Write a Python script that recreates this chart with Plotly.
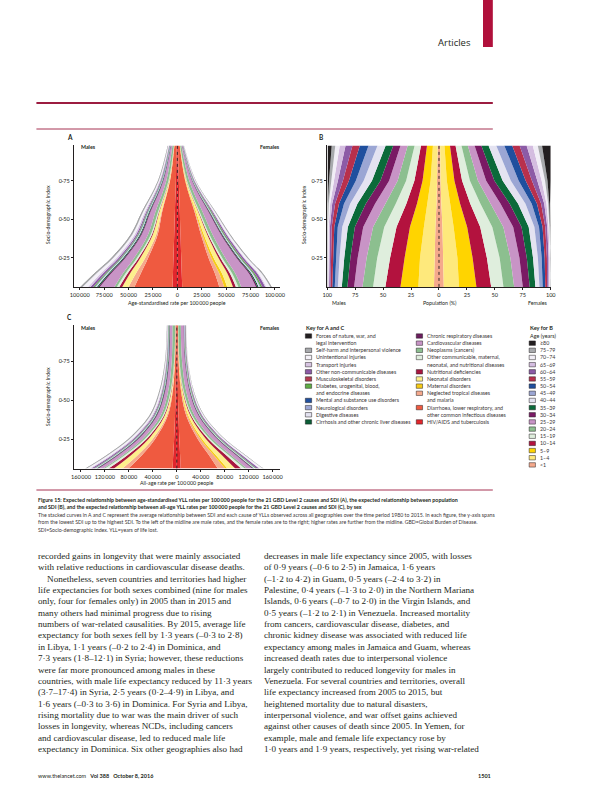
import plotly.graph_objects as go

W, H = 596, 800
SANS = "Lato"
SERIF = "Liberation Serif"
INK = "#231f20"


def fx(p):
    return p / W


def fy(p):
    return 1 - p / H


# ---------------- data ----------------
SDI_AC = [0.063, 0.15, 0.25, 0.4, 0.55, 0.75, 0.978]
SDI_B = [0.063, 0.25, 0.45, 0.6, 0.75, 0.978]

CAUSES = [
    "Forces of nature, war, and\nlegal intervention",
    "Self-harm and interpersonal violence",
    "Unintentional injuries",
    "Transport injuries",
    "Other non-communicable diseases",
    "Musculoskeletal disorders",
    "Diabetes, urogenital, blood,\nand endocrine diseases",
    "Mental and substance use disorders",
    "Neurological disorders",
    "Digestive diseases",
    "Cirrhosis and other chronic liver diseases",
    "Chronic respiratory diseases",
    "Cardiovascular diseases",
    "Neoplasms (cancers)",
    "Other communicable, maternal,\nneonatal, and nutritional diseases",
    "Nutritional deficiencies",
    "Neonatal disorders",
    "Maternal disorders",
    "Neglected tropical diseases\nand malaria",
    "Diarrhoea, lower respiratory, and\nother common infectious diseases",
    "HIV/AIDS and tuberculosis",
]
CAUSE_COLORS = [
    "#231f20", "#a7a9ac", "#f4f1f8", "#d7c4e2", "#8c5ba6", "#b33a50",
    "#5fae45", "#1f4f9e", "#9ba6d4", "#e4e3f1", "#0b5e36",
    "#6b1d5e", "#c894c6", "#8cbf8f", "#dfeedd", "#a9173f", "#fdef8c",
    "#f6cb16", "#f5a98c", "#ef5a40", "#e2262c",
]

# age-standardised YLL rate per 100 000 (rows follow CAUSES, columns follow SDI_AC)
A_MALE = [
    [300, 300, 300, 250, 200, 100, 50],
    [2000, 1900, 1700, 1400, 1100, 800, 500],
    [5500, 4200, 3300, 2400, 1800, 900, 500],
    [2500, 2400, 2100, 1700, 1300, 800, 400],
    [3000, 2400, 1900, 1400, 1000, 600, 400],
    [100, 100, 100, 100, 100, 80, 50],
    [1300, 1200, 1000, 800, 600, 400, 250],
    [300, 300, 300, 300, 300, 300, 200],
    [700, 600, 500, 400, 350, 300, 250],
    [1200, 1000, 800, 600, 500, 350, 200],
    [1500, 1400, 1200, 1000, 800, 500, 250],
    [1500, 1400, 1200, 1000, 800, 500, 300],
    [15000, 12000, 9000, 6500, 5000, 3000, 1500],
    [2500, 2700, 2800, 2800, 2700, 2200, 1500],
    [2500, 2200, 1800, 1200, 800, 400, 150],
    [3000, 2500, 1700, 900, 500, 200, 50],
    [6500, 6000, 5000, 3500, 2200, 800, 300],
    [0, 0, 0, 0, 0, 0, 0],
    [6000, 5000, 3000, 1500, 700, 200, 50],
    [39000, 33000, 26000, 17000, 13000, 6000, 2300],
    [5000, 4500, 4000, 3200, 2500, 1500, 700],
]
A_FEMALE = [
    [200, 200, 200, 150, 100, 50, 20],
    [1200, 1100, 1000, 900, 700, 400, 200],
    [4000, 3300, 2600, 1900, 1300, 600, 250],
    [1200, 1100, 1000, 900, 700, 400, 150],
    [3000, 2600, 2100, 1600, 1100, 600, 300],
    [150, 150, 150, 150, 120, 80, 40],
    [1500, 1400, 1300, 1100, 900, 450, 150],
    [200, 200, 200, 200, 200, 150, 100],
    [700, 650, 550, 450, 400, 300, 200],
    [1200, 1000, 800, 600, 500, 300, 120],
    [1300, 1200, 1000, 800, 600, 300, 120],
    [1500, 1400, 1200, 1000, 800, 400, 200],
    [15000, 14000, 11500, 8500, 6000, 2800, 900],
    [3000, 3200, 3200, 3200, 3000, 2300, 1200],
    [2500, 2300, 1900, 1300, 900, 400, 120],
    [3000, 2600, 1900, 1000, 500, 200, 40],
    [6000, 5500, 5000, 3500, 2200, 800, 250],
    [3000, 2800, 2200, 1500, 900, 300, 50],
    [5000, 4500, 3000, 1500, 700, 200, 50],
    [38000, 34000, 28000, 21000, 15000, 6500, 1800],
    [5000, 4500, 4000, 3200, 2500, 1500, 600],
]
# all-age YLL rate per 100 000
C_MALE = [
    [400, 400, 400, 300, 200, 100, 50],
    [2000, 2000, 1900, 1600, 1300, 800, 600],
    [5000, 4500, 3800, 2500, 1800, 900, 500],
    [2500, 2500, 2300, 1900, 1400, 800, 400],
    [4000, 3200, 2400, 1600, 1100, 700, 500],
    [100, 100, 100, 100, 100, 100, 80],
    [1500, 1300, 1100, 900, 800, 700, 600],
    [300, 300, 300, 300, 300, 300, 250],
    [1000, 900, 800, 600, 500, 500, 600],
    [1500, 1300, 1100, 800, 600, 450, 400],
    [1500, 1400, 1300, 1100, 1000, 800, 600],
    [2000, 1700, 1500, 1200, 1000, 800, 700],
    [8000, 7500, 7000, 6000, 5000, 4300, 4000],
    [3000, 3200, 3500, 3700, 3800, 4000, 4800],
    [6000, 4500, 3000, 1600, 1000, 400, 200],
    [9000, 6000, 3500, 1500, 700, 200, 80],
    [14000, 11000, 7000, 3500, 1500, 700, 300],
    [0, 0, 0, 0, 0, 0, 0],
    [10000, 7000, 4000, 1800, 800, 200, 50],
    [74000, 52000, 32000, 12000, 5000, 2000, 1500],
    [7000, 6000, 4500, 3000, 2000, 1000, 500],
]
C_FEMALE = [
    [200, 200, 200, 150, 100, 50, 20],
    [1200, 1100, 1000, 800, 600, 350, 250],
    [4500, 3500, 2500, 1700, 1100, 500, 300],
    [1200, 1100, 1000, 800, 600, 350, 150],
    [4000, 3200, 2400, 1600, 1100, 700, 600],
    [150, 150, 150, 150, 150, 150, 150],
    [1800, 1600, 1400, 1100, 900, 700, 600],
    [200, 200, 200, 200, 200, 200, 150],
    [1000, 900, 800, 600, 500, 600, 800],
    [1500, 1300, 1100, 800, 600, 450, 400],
    [1200, 1100, 1000, 800, 700, 500, 300],
    [1800, 1600, 1400, 1100, 900, 700, 600],
    [9000, 8500, 8000, 6500, 5500, 4800, 4800],
    [3500, 3600, 3800, 3900, 4000, 4200, 4200],
    [6000, 4500, 3000, 1600, 1000, 400, 200],
    [10000, 7000, 4000, 1700, 700, 200, 80],
    [13000, 10000, 6500, 3300, 1500, 600, 250],
    [4000, 3500, 2800, 1500, 800, 200, 30],
    [12000, 8000, 4500, 2000, 800, 200, 50],
    [62000, 48000, 31000, 13000, 5500, 2000, 1500],
    [6500, 5500, 4200, 2800, 1800, 900, 400],
]

AGES = ["\u226580", "75\u201379", "70\u201374", "65\u201369", "60\u201364", "55\u201359",
        "50\u201354", "45\u201349", "40\u201344", "35\u201339", "30\u201334", "25\u201329",
        "20\u201324", "15\u201319", "10\u201314", "5\u20139", "1\u20134", "<1"]
AGE_COLORS = ["#231f20", "#a7a9ac", "#f1eef6", "#d4bde0", "#8c5ba6", "#b8304c",
              "#1f4f9e", "#9ba6d4", "#e4e3f1", "#0b6a3a", "#7a1a64", "#c894c6",
              "#8cbf8f", "#dfeedd", "#b3123e", "#ffd400", "#fee97c", "#f5a98c"]
# population (%) by age group (rows follow AGES, columns follow SDI_B)
B_MALE = [
    [0.1, 0.1, 0.2, 0.5, 1.6, 3.5],
    [0.3, 0.3, 0.4, 0.8, 1.8, 3.2],
    [0.5, 0.5, 0.7, 1.3, 2.6, 4.0],
    [0.8, 0.9, 1.1, 1.8, 3.5, 5.2],
    [1.2, 1.4, 1.6, 2.6, 4.5, 6.2],
    [1.6, 1.9, 2.3, 3.5, 5.4, 6.6],
    [2.2, 2.6, 3.1, 4.5, 6.2, 7.8],
    [2.8, 3.3, 4.0, 5.5, 7.0, 8.0],
    [3.5, 4.2, 5.0, 6.5, 7.4, 7.3],
    [5.0, 5.5, 6.3, 7.5, 7.6, 6.8],
    [6.0, 6.5, 7.5, 8.3, 7.8, 6.5],
    [7.5, 8.0, 8.8, 9.0, 7.6, 6.4],
    [9.5, 9.5, 10.0, 9.5, 7.6, 6.2],
    [11.0, 11.5, 11.0, 9.5, 7.4, 5.7],
    [13.5, 13.0, 12.0, 9.5, 7.3, 5.4],
    [16.0, 13.8, 12.5, 9.5, 7.2, 5.3],
    [14.0, 13.0, 10.3, 8.0, 6.0, 4.3],
    [4.5, 4.0, 3.2, 2.2, 1.5, 1.1],
]
B_FEMALE = [
    [0.1, 0.1, 0.3, 0.8, 2.9, 7.8],
    [0.3, 0.3, 0.5, 1.0, 2.2, 3.8],
    [0.6, 0.6, 0.8, 1.5, 3.0, 4.5],
    [0.9, 1.0, 1.2, 2.0, 3.9, 5.5],
    [1.3, 1.5, 1.8, 2.8, 4.8, 6.3],
    [1.7, 2.0, 2.4, 3.7, 5.6, 6.6],
    [2.3, 2.7, 3.2, 4.7, 6.3, 7.1],
    [2.9, 3.4, 4.1, 5.6, 7.0, 7.2],
    [3.6, 4.3, 5.1, 6.6, 7.3, 6.9],
    [5.1, 5.6, 6.4, 7.5, 7.4, 6.4],
    [6.2, 6.6, 7.5, 8.2, 7.4, 6.1],
    [7.7, 8.1, 8.8, 8.8, 7.3, 6.0],
    [9.6, 9.6, 9.9, 9.2, 7.2, 5.7],
    [11.0, 11.4, 10.8, 9.1, 7.0, 5.3],
    [13.2, 12.8, 11.7, 9.1, 6.9, 5.0],
    [15.6, 13.6, 12.1, 9.1, 6.8, 4.9],
    [13.6, 12.6, 10.0, 7.7, 5.6, 3.9],
    [4.3, 3.9, 3.1, 2.1, 1.4, 1.0],
]

TICKS_A = [-100000, -75000, -50000, -25000, 0, 25000, 50000, 75000, 100000]
TICKS_C = [-160000, -120000, -80000, -40000, 0, 40000, 80000, 120000, 160000]
TICKS_B = [-100, -75, -50, -25, 0, 25, 50, 75, 100]
TICKS_Y = [0.25, 0.5, 0.75]
TICKTEXT_Y = ["0\u00b725", "0\u00b750", "0\u00b775"]
Y_RANGE = [0.063, 0.978]


def thin(v):
    s = f"{abs(v):,}"
    return s.replace(",", "\u2009")


fig = go.Figure()


def add_stack(rows, colors, sdi, sign, xa, ya, group, shape):
    for i in reversed(range(len(rows))):
        fig.add_trace(go.Scatter(
            x=[sign * v for v in rows[i]], y=sdi, xaxis=xa, yaxis=ya,
            stackgroup=group, orientation="h", mode="lines",
            line=dict(width=0, color=colors[i], shape=shape),
            fillcolor=colors[i], showlegend=False, hoverinfo="skip"))


add_stack(A_MALE, CAUSE_COLORS, SDI_AC, -1, "x", "y", "am", "spline")
add_stack(A_FEMALE, CAUSE_COLORS, SDI_AC, 1, "x", "y", "af", "spline")
add_stack(B_MALE, AGE_COLORS, SDI_B, -1, "x2", "y2", "bm", "linear")
add_stack(B_FEMALE, AGE_COLORS, SDI_B, 1, "x2", "y2", "bf", "linear")
add_stack(C_MALE, CAUSE_COLORS, SDI_AC, -1, "x3", "y3", "cm", "spline")
add_stack(C_FEMALE, CAUSE_COLORS, SDI_AC, 1, "x3", "y3", "cf", "spline")

for xa, ya in (("x", "y"), ("x2", "y2"), ("x3", "y3")):
    fig.add_trace(go.Scatter(x=[0, 0], y=Y_RANGE, xaxis=xa, yaxis=ya, mode="lines",
                             line=dict(color=INK, width=0.9, dash="dot"),
                             showlegend=False, hoverinfo="skip"))

tickfont = dict(family=SANS, size=5.6, color=INK)


def xaxis(dom, rng, vals, anchor):
    return dict(domain=[fx(dom[0]), fx(dom[1])], range=rng, tickvals=vals,
                ticktext=[thin(v) for v in vals], showline=True, linecolor=INK,
                linewidth=0.8, ticks="outside", ticklen=2.5, tickwidth=0.7,
                tickcolor=INK, tickfont=tickfont, showgrid=False, zeroline=False,
                anchor=anchor, fixedrange=True)


def yaxis(dom, anchor):
    return dict(domain=[fy(dom[1]), fy(dom[0])], range=Y_RANGE, tickvals=TICKS_Y,
                ticktext=TICKTEXT_Y, showline=True, linecolor=INK, linewidth=0.8,
                ticks="outside", ticklen=2.5, tickwidth=0.7, tickcolor=INK,
                tickfont=tickfont, showgrid=False, zeroline=False, anchor=anchor,
                fixedrange=True)


fig.update_layout(
    width=W, height=H, margin=dict(l=0, r=0, t=0, b=0),
    paper_bgcolor="white", plot_bgcolor="white", showlegend=False,
    xaxis=xaxis((70.7, 280), [-105500, 105000], TICKS_A, "y"),
    yaxis=yaxis((145.4, 286.9), "x"),
    xaxis2=xaxis((328.3, 556), [-100, 100], TICKS_B, "y2"),
    yaxis2=yaxis((145.4, 286.9), "x2"),
    xaxis3=xaxis((70.7, 280), [-171000, 172000], TICKS_C, "y3"),
    yaxis3=yaxis((325.3, 468.6), "x3"),
)

annotations = []
shapes = []


def ann(text, x, y, size=5.5, xanchor="left", bold=False, family=SANS,
        color=INK, angle=0, yanchor="middle"):
    if bold:
        text = "<b>" + text + "</b>"
    annotations.append(dict(text=text, x=fx(x), y=fy(y), xref="paper", yref="paper",
                            xanchor=xanchor, yanchor=yanchor, showarrow=False,
                            textangle=angle,
                            font=dict(family=family, size=size, color=color)))


# header decoration
shapes.append(dict(type="rect", xref="paper", yref="paper", x0=fx(487), x1=fx(497),
                   y0=fy(47), y1=fy(0), fillcolor="#b0103b", line=dict(width=0)))
ann("Articles", 477, 43, size=9.5, xanchor="right", family="Open Sans")
for yy, wd in ((103, 2), (129, 0.9), (490, 0.9)):
    shapes.append(dict(type="line", xref="paper", yref="paper", x0=fx(32), x1=fx(497),
                       y0=fy(yy), y1=fy(yy), line=dict(color="#9c1c40", width=wd)))

# panel labels and titles
ann("A", 61, 137, size=6.5, bold=True)
ann("B", 318, 137, size=6.5, bold=True)
ann("C", 61, 317, size=6.5, bold=True)
ann("Males", 75, 147, size=5.3, bold=True)
ann("Females", 282, 147, size=5.3, bold=True, xanchor="right")
ann("Males", 75, 328.3, size=5.3, bold=True)
ann("Females", 282, 328.3, size=5.3, bold=True, xanchor="right")
ann("Males", 331, 302.7, size=5.3)
ann("Population (%)", 443, 302.7, size=5.3, xanchor="center")
ann("Females", 555, 302.7, size=5.3, xanchor="right")
ann("Age-standardised rate per 100\u2009000 people", 175, 302.7, size=5.3, xanchor="center")
ann("All-age rate per 100\u2009000 people", 175, 482.7, size=5.3, xanchor="center")
ann("Socio-demographic Index", 44, 215, size=5.3, xanchor="center", angle=-90)
ann("Socio-demographic Index", 305, 215, size=5.3, xanchor="center", angle=-90)
ann("Socio-demographic Index", 44, 397, size=5.3, xanchor="center", angle=-90)

# keys
ROW0, PITCH = 336.0, 7.16
ann("Key for A and C", 305, 328, size=5.6, bold=True)
ann("Key for B", 533, 328, size=5.6, bold=True)
ann("Age (years)", 533, 336, size=5.4)


def key_item(label, color, xsq, row):
    yc = ROW0 + row * PITCH
    shapes.append(dict(type="rect", xref="paper", yref="paper", x0=fx(xsq),
                       x1=fx(xsq + 6.4), y0=fy(yc + 2.2), y1=fy(yc - 2.2),
                       fillcolor=color, line=dict(color=INK, width=0.5)))
    lines = label.split("\n")
    for k, ln in enumerate(lines):
        ann(ln, xsq + 9, ROW0 + (row + k) * PITCH, size=5.3, color="#3a3536")
    return len(lines)


row = 0
for i in range(11):
    row += key_item(CAUSES[i], CAUSE_COLORS[i], 306, row)
row = 0
for i in range(11, 21):
    row += key_item(CAUSES[i], CAUSE_COLORS[i], 419, row)
for j, (lab, col) in enumerate(zip(AGES, AGE_COLORS)):
    key_item(lab, col, 534, j + 1)

# caption
CAP_BOLD = [
    "Figure 15: Expected relationship between age-standardised YLL rates per 100\u2009000 people for the 21 GBD Level 2 causes and SDI (A), the expected relationship between population",
    "and SDI (B), and the expected relationship between all-age YLL rates per 100\u2009000 people for the 21 GBD Level 2 causes and SDI (C), by sex",
]
CAP_TEXT = [
    "The stacked curves in A and C represent the average relationship between SDI and each cause of YLLs observed across all geographies over the time period 1980 to 2015. In each figure, the y-axis spans",
    "from the lowest SDI up to the highest SDI. To the left of the midline are male rates, and the female rates are to the right; higher rates are further from the midline. GBD=Global Burden of Disease.",
    "SDI=Socio-demographic Index. YLL=years of life lost.",
]
cy = 500
for ln in CAP_BOLD:
    ann(ln, 32, cy, size=5.3, bold=True)
    cy += 7.4
for ln in CAP_TEXT:
    ann(ln, 32, cy, size=5.2, color="#3a3536")
    cy += 7.4

LEFT_COL = [
    "recorded gains in longevity that were mainly associated",
    "with relative reductions in cardiovascular disease deaths.",
    "\u2003Nonetheless, seven countries and territories had higher",
    "life expectancies for both sexes combined (nine for males",
    "only, four for females only) in 2005 than in 2015 and",
    "many others had minimal progress due to rising",
    "numbers of war-related causalities. By 2015, average life",
    "expectancy for both sexes fell by 1\u00b73 years (\u20130\u00b73 to 2\u00b78)",
    "in Libya, 1\u00b71 years (\u20130\u00b72 to 2\u00b74) in Dominica, and",
    "7\u00b73 years (1\u00b78\u201312\u00b71) in Syria; however, these reductions",
    "were far more pronounced among males in these",
    "countries, with male life expectancy reduced by 11\u00b73 years",
    "(3\u00b77\u201317\u00b74) in Syria, 2\u00b75 years (0\u00b72\u20134\u00b79) in Libya, and",
    "1\u00b76 years (\u20130\u00b73 to 3\u00b76) in Dominica. For Syria and Libya,",
    "rising mortality due to war was the main driver of such",
    "losses in longevity, whereas NCDs, including cancers",
    "and cardiovascular disease, led to reduced male life",
    "expectancy in Dominica. Six other geographies also had",
]
RIGHT_COL = [
    "decreases in male life expectancy since 2005, with losses",
    "of 0\u00b79 years (\u20130\u00b76 to 2\u00b75) in Jamaica, 1\u00b76 years",
    "(\u20131\u00b72 to 4\u00b72) in Guam, 0\u00b75 years (\u20132\u00b74 to 3\u00b72) in",
    "Palestine, 0\u00b74 years (\u20131\u00b73 to 2\u00b70) in the Northern Mariana",
    "Islands, 0\u00b76 years (\u20130\u00b77 to 2\u00b70) in the Virgin Islands, and",
    "0\u00b75 years (\u20131\u00b72 to 2\u00b71) in Venezuela. Increased mortality",
    "from cancers, cardiovascular disease, diabetes, and",
    "chronic kidney disease was associated with reduced life",
    "expectancy among males in Jamaica and Guam, whereas",
    "increased death rates due to interpersonal violence",
    "largely contributed to reduced longevity for males in",
    "Venezuela. For several countries and territories, overall",
    "life expectancy increased from 2005 to 2015, but",
    "heightened mortality due to natural disasters,",
    "interpersonal violence, and war offset gains achieved",
    "against other causes of death since 2005. In Yemen, for",
    "example, male and female life expectancy rose by",
    "1\u00b70 years and 1\u00b79 years, respectively, yet rising war-related",
]
for k, ln in enumerate(LEFT_COL):
    ann(ln, 32, 556 + k * 11.35, size=9.1, family=SERIF)
for k, ln in enumerate(RIGHT_COL):
    ann(ln, 262, 556 + k * 11.35, size=9.1, family=SERIF)

ann("www.thelancet.com&#8195;<b>Vol 388&#8195;October 8, 2016</b>", 32, 776, size=5.5)
ann("1501", 497, 776, size=5.5, bold=True, xanchor="right")

fig.update_layout(annotations=annotations, shapes=shapes)
fig.write_html("out.html")
